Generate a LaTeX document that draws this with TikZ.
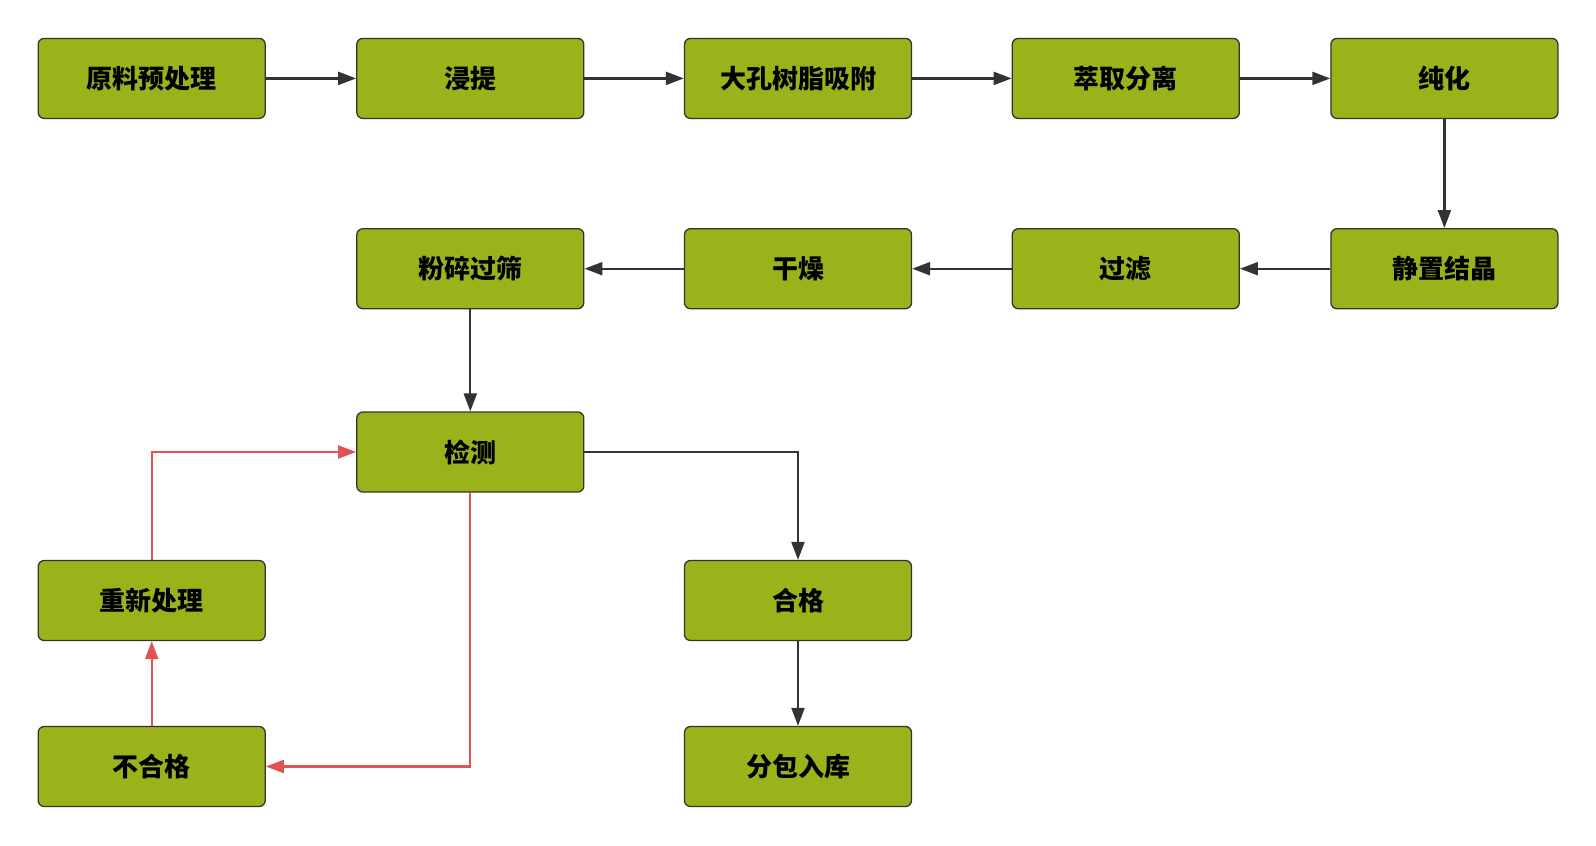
\documentclass[tikz,border=0pt]{standalone}
\usepackage{fontspec}
\setmainfont{Noto Sans CJK SC}
\usetikzlibrary{arrows.meta}
\definecolor{boxgreen}{RGB}{155,178,26}
\definecolor{linegray}{RGB}{51,51,51}
\definecolor{backred}{RGB}{226,82,82}
\begin{document}
\begin{tikzpicture}[x=1pt,y=-1pt,>={Triangle[length=18pt,width=13pt]},
	step box/.style={draw=linegray,line width=1.3pt,fill=boxgreen,rounded corners=6pt,minimum width=227pt,minimum height=80pt,inner sep=0pt,font=\fontsize{26}{31}\selectfont\bfseries},
	flow/.style={->,draw=linegray,line width=2.2pt},
	redo flow/.style={->,draw=backred,line width=2.2pt}]
	\useasboundingbox (0,0) rectangle (1596,846);
	\node[step box] (pre) at (151.7,78.4) {原料预处理};
	\node[step box] (leach) at (470.3,78.4) {浸提};
	\node[step box] (resin) at (798,78.4) {大孔树脂吸附};
	\node[step box] (extract) at (1125.8,78.4) {萃取分离};
	\node[step box] (purify) at (1444.4,78.4) {纯化};
	\node[step box] (cryst) at (1444.4,268.7) {静置结晶};
	\node[step box] (filt) at (1125.8,268.7) {过滤};
	\node[step box] (dry) at (798,268.7) {干燥};
	\node[step box] (mill) at (470.3,268.7) {粉碎过筛};
	\node[step box] (test) at (470.3,452) {检测};
	\node[step box] (redo) at (151.7,600.5) {重新处理};
	\node[step box] (fail) at (151.7,766.5) {不合格};
	\node[step box] (pass) at (798,600.5) {合格};
	\node[step box] (pack) at (798,766.5) {分包入库};
	\draw[flow] (pre) -- (leach);
	\draw[flow] (leach) -- (resin);
	\draw[flow] (resin) -- (extract);
	\draw[flow] (extract) -- (purify);
	\draw[flow] (purify) -- (cryst);
	\draw[flow] (cryst) -- (filt);
	\draw[flow] (filt) -- (dry);
	\draw[flow] (dry) -- (mill);
	\draw[flow] (mill) -- (test);
	\draw[flow] (test.east) -| (pass.north);
	\draw[flow] (pass) -- (pack);
	\draw[redo flow] (test.south) |- (fail.east);
	\draw[redo flow] (fail) -- (redo);
	\draw[redo flow] (redo.north) |- (test.west);
\end{tikzpicture}
\end{document}
